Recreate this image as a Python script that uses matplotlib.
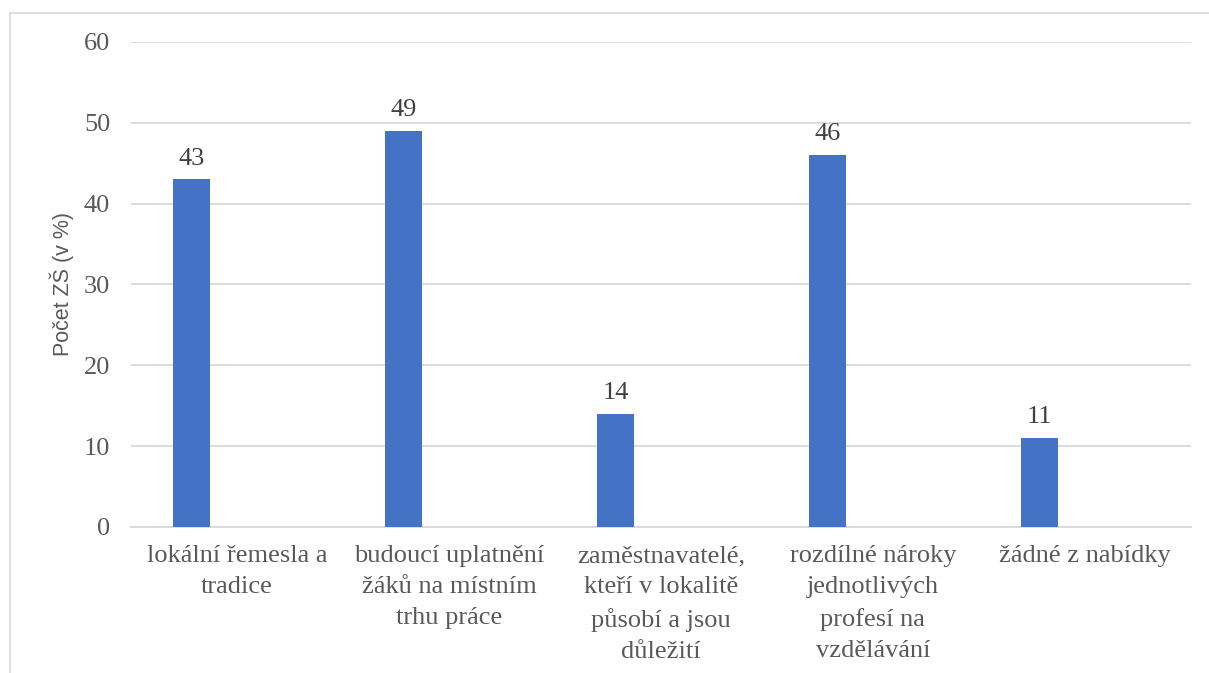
import numpy as np
import matplotlib.pyplot as plt

# data
categories = [
    "lokální řemesla a\ntradice",
    "budoucí uplatnění\nžáků na místním\ntrhu práce",
    "zaměstnavatelé,\nkteří v lokalitě\npůsobí a jsou\ndůležití",
    "rozdílné nároky\njednotlivých\nprofesí na\nvzdělávání",
    "žádné z nabídky",
]
values = [43, 49, 14, 46, 11]
yticks = [0, 10, 20, 30, 40, 50, 60]

text_col = "#595959"
bar_col = "#4472C4"
grid_col = "#D9D9D9"

fig = plt.figure(figsize=(12.09, 6.73), dpi=100)
ax = fig.add_axes([0.1084, 0.217, 0.8766, 0.7206])

# outer chart border (only top/left visible in the source)
fig.add_artist(plt.Line2D([0.008, 0.008], [0, 0.981], color="#D9D9D9", lw=1.2))
fig.add_artist(plt.Line2D([0.008, 1.0], [0.981, 0.981], color="#D9D9D9", lw=1.2))

x = np.arange(len(categories))
offset = -0.215
bars = ax.bar(x + offset, values, width=0.176, color=bar_col, zorder=3)

for xi, v in zip(x, values):
    ax.annotate(str(v), (xi + offset, v), xytext=(0, 7), textcoords="offset points",
                ha="center", va="bottom", fontsize=19, family="Liberation Serif",
                color="#404040")

ax.set_xlim(-0.5, len(categories) - 0.5)
ax.set_ylim(0, 60)
ax.set_yticks(yticks)
ax.set_yticklabels([str(t) for t in yticks], fontsize=19, family="Liberation Serif",
                   color=text_col)
ax.set_xticks(x)
ax.set_xticklabels(categories, fontsize=19, family="Liberation Serif", color=text_col,
                   linespacing=1.53, va="top")
ax.tick_params(axis="both", length=0)
ax.tick_params(axis="x", pad=13)
ax.tick_params(axis="y", pad=15)

ax.grid(axis="y", color=grid_col, lw=1.3, zorder=0)
for s in ["top", "right", "left"]:
    ax.spines[s].set_visible(False)
ax.spines["bottom"].set_color(grid_col)
ax.spines["bottom"].set_linewidth(1.3)

ax.set_ylabel("Počet ZŠ (v %)", fontsize=15.5, family="Liberation Sans", color=text_col,
              labelpad=7)

fig.savefig("out.png", dpi=100)
